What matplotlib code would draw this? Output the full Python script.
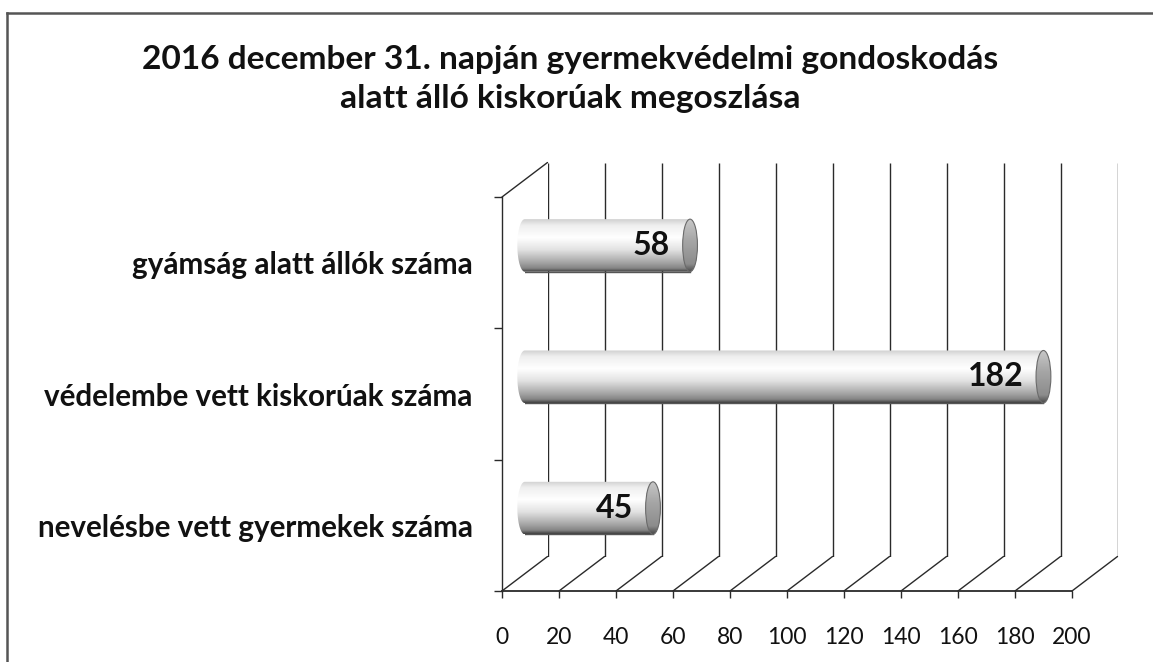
import numpy as np
import matplotlib
matplotlib.use("Agg")
import matplotlib.pyplot as plt
from matplotlib.patches import ConnectionPatch, Ellipse, PathPatch
from matplotlib.path import Path
from matplotlib.colors import LinearSegmentedColormap
from matplotlib.lines import Line2D

# ---- data ----
title = "2016 december 31. napján gyermekvédelmi gondoskodás\nalatt álló kiskorúak megoszlása"
categories = ["nevelésbe vett gyermekek száma",
              "védelembe vett kiskorúak száma",
              "gyámság alatt állók száma"]
values = [45, 182, 58]
x_ticks = [0, 20, 40, 60, 80, 100, 120, 140, 160, 180, 200]

plt.rcParams['font.family'] = ['Lato', 'DejaVu Sans']

W, H = 1153, 662
fig = plt.figure(figsize=(W / 100, H / 100), dpi=100)

# pixel geometry of the front plane
fx0, fx1, fy_top, fy_bot = 502, 1072, 197, 591
depth_dx, depth_dy = 45.5, 34.5

def rect(dx=0.0, dy=0.0):
    return [(fx0 + dx) / W, (H - fy_bot + dy) / H, (fx1 - fx0) / W, (fy_bot - fy_top) / H]

ax_back = fig.add_axes(rect(depth_dx, depth_dy))
ax_mid = fig.add_axes(rect(depth_dx / 2, depth_dy / 2))
ax_front = fig.add_axes(rect())

n = len(categories)
ylims = (-0.5, n - 0.5)
for a in (ax_back, ax_mid, ax_front):
    a.set_xlim(x_ticks[0], x_ticks[-1])
    a.set_ylim(*ylims)
    a.patch.set_alpha(0)
    for s in a.spines.values():
        s.set_visible(False)

line_col = "#2a2a2a"
lw = 1.0

# back wall gridlines
ax_back.vlines(x_ticks, ylims[0], ylims[1], color=line_col, lw=lw)
ax_back.set_xticks([])
ax_back.set_yticks([])

# front axes
ax_front.plot([x_ticks[0], x_ticks[-1]], [ylims[0], ylims[0]], color=line_col, lw=1.3, clip_on=False)
ax_front.plot([x_ticks[0], x_ticks[0]], [ylims[0], ylims[1]], color=line_col, lw=1.0, clip_on=False)
ax_front.set_xticks(x_ticks)
ax_front.set_xticklabels([str(t) for t in x_ticks], fontsize=16.5, color="#111111")
ax_front.tick_params(axis='x', length=5, width=1, color=line_col, pad=21)
bounds = np.arange(-0.5, n, 1.0)
ax_front.set_yticks(bounds)
ax_front.set_yticklabels([""] * len(bounds))
ax_front.tick_params(axis='y', which='major', length=6, width=1, color=line_col)
ax_front.set_yticks(np.arange(n), minor=True)
ax_front.set_yticklabels(categories, minor=True, fontsize=21.3, fontweight='bold', color="#111111")
ax_front.tick_params(axis='y', which='minor', length=0, pad=21)

# floor/wall diagonals
for t in x_ticks:
    ax_front.add_artist(ConnectionPatch(xyA=(t, ylims[0]), coordsA=ax_front.transData,
                                        xyB=(t, ylims[0]), coordsB=ax_back.transData,
                                        color=line_col, lw=lw))
ax_front.add_artist(ConnectionPatch(xyA=(0, ylims[1]), coordsA=ax_front.transData,
                                    xyB=(0, ylims[1]), coordsB=ax_back.transData,
                                    color=line_col, lw=lw))

# bars (cylinders)
ax_mid.set_xticks([])
ax_mid.set_yticks([])
bh = 0.4
capw = 2.6
body_cmap = LinearSegmentedColormap.from_list(
    "body", [(0.0, "#d0d0d0"), (0.12, "#efefef"), (0.35, "#ffffff"),
             (0.58, "#e2e2e2"), (0.8, "#ababab"), (0.93, "#858585"), (1.0, "#3c3c3c")])
cap_cmap = LinearSegmentedColormap.from_list(
    "cap", [(0.0, "#c8c8c8"), (0.4, "#a6a6a6"), (0.85, "#8c8c8c"), (1.0, "#4a4a4a")])
grad = np.linspace(0, 1, 256).reshape(-1, 1)

bars = ax_mid.barh(np.arange(n), values, height=bh, color="none", edgecolor="none")
for i, (b, v) in enumerate(zip(bars, values)):
    y0, y1 = i - bh / 2, i + bh / 2
    # body shape: rectangle with rounded left end
    th = np.linspace(np.pi / 2, 3 * np.pi / 2, 40)
    left = np.column_stack([0 + capw * np.cos(th), i + bh / 2 * np.sin(th)])
    verts = np.vstack([[v, y1], left, [v, y0], [v, y1]])
    pp = PathPatch(Path(verts), facecolor="none", edgecolor="none")
    ax_mid.add_patch(pp)
    im = ax_mid.imshow(grad, cmap=body_cmap, aspect='auto',
                       extent=(-capw, v, y0, y1), origin='upper',
                       interpolation='bilinear', zorder=2)
    im.set_clip_path(pp)
    im.set_clip_box(fig.bbox)
    ax_mid.plot([0, v], [y0, y0], color="#555555", lw=1.0, zorder=3)
    # end cap
    el = Ellipse((v, i), 2 * capw, bh, facecolor="none", edgecolor="#6a6a6a", lw=0.8, zorder=4)
    ax_mid.add_patch(el)
    im2 = ax_mid.imshow(grad, cmap=cap_cmap, aspect='auto',
                        extent=(v - capw, v + capw, y0, y1), origin='upper',
                        interpolation='bilinear', zorder=3)
    im2.set_clip_path(el)
    ax_mid.text(v - 7, i, str(v), ha='right', va='center', fontsize=23,
                fontweight='bold', color="#111111", zorder=5)
ax_mid.set_xlim(x_ticks[0], x_ticks[-1])
ax_mid.set_ylim(*ylims)

# title
fig.text(570 / W, 1 - 79 / H, title, ha='center', va='center', fontsize=24.1,
         fontweight='bold', color="#111111", linespacing=1.4)

# frame border (top and left)
fig.add_artist(Line2D([7 / W, 1.0], [1 - 13 / H, 1 - 13 / H], transform=fig.transFigure,
                      color="#555555", lw=1.8))
fig.add_artist(Line2D([7 / W, 7 / W], [0, 1 - 13 / H], transform=fig.transFigure,
                      color="#555555", lw=1.8))

fig.savefig("out.png", dpi=100, facecolor="white")
